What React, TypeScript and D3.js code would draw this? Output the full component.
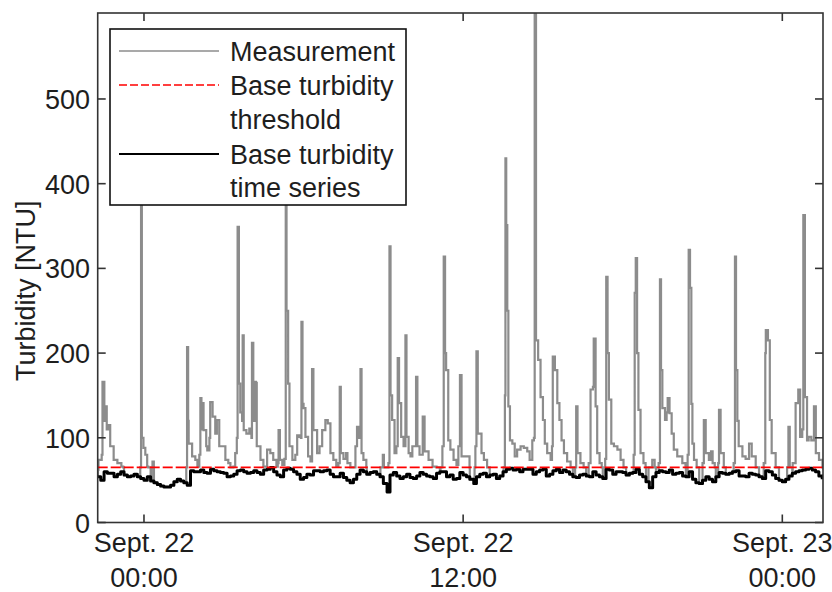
import React from 'react';
import * as d3 from 'd3';

// ---------- data ----------
const START = new Date(2016, 8, 22, 0, 0, 0);
const toDate = (h: number) => new Date(START.getTime() + h * 3600 * 1000);

const xDomainHours = [-1.74, 25.53];
const yDomain = [0, 601.5];
const yTicks = [0, 100, 200, 300, 400, 500];
const xTickHours = [0, 12, 24];
const xTickLabels = [
  ['Sept. 22', '00:00'],
  ['Sept. 22', '12:00'],
  ['Sept. 23', '00:00'],
];
const threshold = 65;
const yLabel = 'Turbidity [NTU]';
const legendItems = [
  { lines: ['Measurement'], kind: 'measurement' },
  { lines: ['Base turbidity', 'threshold'], kind: 'threshold' },
  { lines: ['Base turbidity', 'time series'], kind: 'base' },
];

// Base turbidity time series: [hours since Sept. 22 00:00, NTU]
const baseSeries: [number, number][] = [
  [-1.75, 54], [-1.625, 50], [-1.5, 60], [-1.375, 58], [-1.25, 58], [-1.125, 54], [-1.0, 57], [-0.875, 60],
  [-0.75, 56], [-0.625, 54], [-0.5, 55], [-0.375, 57], [-0.25, 54], [-0.125, 52], [0, 50], [0.125, 54],
  [0.25, 49], [0.375, 47], [0.5, 45], [0.625, 43], [0.75, 42], [0.875, 42], [1.0, 44], [1.125, 48],
  [1.25, 51], [1.375, 49], [1.5, 47], [1.625, 44], [1.75, 61], [1.875, 60], [2.0, 60], [2.125, 62],
  [2.25, 59], [2.375, 58], [2.5, 63], [2.625, 61], [2.75, 60], [2.875, 59], [3.0, 58], [3.125, 54],
  [3.25, 55], [3.375, 57], [3.5, 61], [3.625, 62], [3.75, 60], [3.875, 58], [4.0, 59], [4.125, 61],
  [4.25, 59], [4.375, 57], [4.5, 62], [4.625, 63], [4.75, 65], [4.875, 60], [5.0, 56], [5.125, 54],
  [5.25, 62], [5.375, 64], [5.5, 63], [5.625, 60], [5.75, 57], [5.875, 51], [6.0, 53], [6.125, 57],
  [6.25, 56], [6.375, 61], [6.5, 61], [6.625, 60], [6.75, 61], [6.875, 62], [7.0, 57], [7.125, 54],
  [7.25, 54], [7.375, 58], [7.5, 53], [7.625, 50], [7.75, 47], [7.875, 51], [8.0, 57], [8.125, 62],
  [8.25, 60], [8.375, 57], [8.5, 59], [8.625, 60], [8.75, 57], [8.875, 54], [9.0, 46], [9.14, 36],
  [9.25, 56], [9.375, 59], [9.5, 55], [9.625, 52], [9.75, 54], [9.875, 57], [10.0, 53], [10.125, 52],
  [10.25, 55], [10.375, 59], [10.5, 57], [10.625, 55], [10.75, 54], [10.875, 52], [11.0, 58], [11.125, 60],
  [11.25, 60], [11.375, 54], [11.5, 56], [11.625, 51], [11.75, 52], [11.875, 59], [12.0, 56], [12.125, 54],
  [12.25, 51], [12.4, 46], [12.5, 54], [12.625, 57], [12.75, 58], [12.875, 54], [13.0, 56], [13.125, 57],
  [13.25, 52], [13.375, 55], [13.5, 60], [13.625, 63], [13.75, 64], [13.875, 62], [14.0, 63], [14.125, 60],
  [14.25, 63], [14.375, 63], [14.5, 63], [14.625, 57], [14.75, 60], [14.875, 62], [15.0, 63], [15.125, 55],
  [15.25, 57], [15.375, 61], [15.5, 63], [15.625, 59], [15.75, 62], [15.875, 60], [16.0, 57], [16.125, 54],
  [16.25, 53], [16.375, 56], [16.5, 57], [16.625, 55], [16.75, 54], [16.875, 60], [17.0, 56], [17.125, 54],
  [17.25, 52], [17.375, 63], [17.5, 62], [17.625, 57], [17.75, 60], [17.875, 60], [18.0, 59], [18.125, 56],
  [18.25, 58], [18.375, 59], [18.5, 63], [18.625, 57], [18.75, 54], [18.875, 48], [19.0, 41], [19.125, 54],
  [19.25, 59], [19.375, 61], [19.5, 60], [19.625, 59], [19.75, 62], [19.875, 57], [20.0, 58], [20.125, 59],
  [20.25, 55], [20.375, 54], [20.5, 60], [20.625, 51], [20.75, 47], [20.875, 46], [21.0, 50], [21.125, 54],
  [21.25, 51], [21.375, 48], [21.5, 54], [21.625, 59], [21.75, 58], [21.875, 57], [22.0, 58], [22.125, 60],
  [22.25, 61], [22.375, 55], [22.5, 55], [22.625, 54], [22.75, 58], [22.875, 57], [23.0, 56], [23.125, 54],
  [23.25, 52], [23.375, 61], [23.5, 60], [23.625, 56], [23.75, 52], [23.875, 50], [24.0, 48], [24.125, 51],
  [24.25, 55], [24.375, 58], [24.5, 60], [24.625, 61], [24.75, 62], [24.875, 63], [25.0, 64], [25.125, 62],
  [25.25, 60], [25.375, 55], [25.5, 51],
];

// Measurement events above the base level: [hour, NTU]
const measurementEvents: [number, number][][] = [
  [[-1.73, 62], [-1.71, 74], [-1.59, 80], [-1.56, 166], [-1.49, 120], [-1.46, 137], [-1.4, 110], [-1.35, 115],
   [-1.27, 90], [-1.14, 74], [-1.0, 70], [-0.85, 66], [-0.78, 65]],
  [[-0.14, 65], [-0.11, 450], [-0.08, 100], [-0.02, 88], [0.05, 80], [0.12, 66], [0.16, 65]],
  [[0.29, 65], [0.32, 72], [0.37, 65]],
  [[1.59, 65], [1.62, 207], [1.66, 120], [1.68, 93], [1.81, 78], [1.93, 74], [2.01, 66], [2.08, 80], [2.12, 147],
   [2.16, 110], [2.2, 141], [2.24, 109], [2.34, 90], [2.38, 85], [2.46, 100], [2.49, 142], [2.58, 125],
   [2.68, 105], [2.74, 121], [2.83, 90], [2.93, 90], [3.06, 74], [3.17, 70], [3.25, 65]],
  [[3.36, 66], [3.43, 82], [3.49, 100], [3.52, 349], [3.57, 164], [3.62, 130], [3.69, 120], [3.71, 221],
   [3.75, 109], [3.85, 105], [3.96, 111], [4.04, 100], [4.06, 212], [4.11, 120], [4.16, 166], [4.21, 165],
   [4.24, 90], [4.38, 74], [4.49, 66], [4.63, 86], [4.69, 86], [4.75, 82], [4.86, 74], [4.98, 66], [5.03, 70],
   [5.06, 109], [5.11, 74], [5.2, 68], [5.28, 75], [5.33, 400], [5.36, 250], [5.42, 164], [5.47, 90],
   [5.58, 74], [5.69, 80], [5.76, 103], [5.84, 101], [5.9, 100], [5.92, 237], [5.96, 140], [6.0, 135],
   [6.07, 101], [6.17, 78], [6.26, 72], [6.32, 181], [6.37, 109], [6.51, 82], [6.6, 90], [6.7, 109],
   [6.82, 121], [6.91, 117], [7.01, 82], [7.12, 74], [7.23, 66], [7.31, 70], [7.36, 160], [7.4, 82],
   [7.5, 75], [7.6, 82], [7.65, 70], [7.76, 65]],
  [[7.87, 65], [7.95, 90], [8.01, 113], [8.06, 100], [8.14, 181], [8.18, 82], [8.25, 74], [8.36, 65]],
  [[8.89, 65], [8.98, 80], [9.02, 65], [9.19, 70], [9.23, 326], [9.27, 150], [9.33, 121], [9.42, 82],
   [9.49, 90], [9.54, 194], [9.59, 141], [9.67, 101], [9.76, 90], [9.83, 221], [9.87, 101], [9.95, 82],
   [10.02, 78], [10.09, 90], [10.23, 172], [10.28, 90], [10.36, 80], [10.48, 125], [10.55, 84], [10.7, 74],
   [10.85, 66], [11.0, 65]],
  [[11.15, 65], [11.22, 90], [11.27, 314], [11.32, 200], [11.36, 180], [11.44, 97], [11.52, 86], [11.64, 74],
   [11.75, 68], [11.82, 90], [11.88, 174], [11.94, 78], [12.02, 78], [12.13, 78], [12.21, 78], [12.24, 65]],
  [[12.43, 65], [12.46, 90], [12.5, 202], [12.55, 105], [12.69, 82], [12.78, 74], [12.9, 65]],
  [[13.52, 65], [13.57, 150], [13.59, 430], [13.62, 351], [13.66, 250], [13.7, 137], [13.76, 97], [13.85, 93],
   [13.94, 78], [14.03, 86], [14.16, 90], [14.28, 88], [14.41, 84], [14.5, 74], [14.6, 97], [14.66, 100],
   [14.69, 620], [14.74, 215], [14.82, 192], [14.91, 148], [15.0, 121], [15.07, 93], [15.16, 82], [15.29, 74],
   [15.34, 90], [15.37, 196], [15.45, 180], [15.54, 141], [15.62, 121], [15.7, 97], [15.79, 82], [15.91, 72],
   [16.04, 65]],
  [[16.21, 65], [16.25, 137], [16.3, 82], [16.41, 70], [16.53, 65]],
  [[16.72, 70], [16.79, 157], [16.88, 160], [16.91, 217], [16.98, 137], [17.04, 82], [17.13, 70], [17.21, 65]],
  [[17.34, 75], [17.38, 290], [17.43, 200], [17.48, 145], [17.57, 93], [17.67, 90], [17.8, 86], [17.92, 74],
   [18.03, 65]],
  [[18.41, 80], [18.45, 271], [18.49, 312], [18.54, 200], [18.59, 133], [18.67, 82], [18.78, 70], [18.86, 65]],
  [[18.97, 65], [19.11, 74], [19.2, 65]],
  [[19.35, 70], [19.4, 287], [19.44, 180], [19.49, 135], [19.59, 121], [19.65, 130], [19.69, 147], [19.76, 129],
   [19.84, 105], [19.92, 86], [20.05, 78], [20.24, 70], [20.36, 65]],
  [[20.44, 80], [20.48, 322], [20.53, 277], [20.58, 140], [20.62, 93], [20.68, 74], [20.78, 65]],
  [[21.0, 70], [21.05, 121], [21.12, 82], [21.24, 74], [21.32, 84], [21.38, 70], [21.46, 65]],
  [[21.59, 70], [21.62, 133], [21.68, 82], [21.8, 65]],
  [[22.17, 70], [22.22, 314], [22.26, 180], [22.31, 120], [22.36, 90], [22.5, 78], [22.62, 75], [22.75, 93],
   [22.85, 78], [23.0, 65]],
  [[23.3, 70], [23.36, 200], [23.38, 227], [23.46, 215], [23.53, 121], [23.6, 82], [23.75, 65]],
  [[24.18, 65], [24.23, 113], [24.28, 65]],
  [[24.39, 70], [24.5, 141], [24.6, 157], [24.67, 101], [24.75, 110], [24.79, 363], [24.85, 148], [24.93, 97],
   [24.99, 101], [25.09, 97], [25.19, 137], [25.26, 82], [25.38, 74], [25.51, 65], [25.56, 62]],
];

// ---------- layout ----------
const W = 832;
const H = 592;
const plot = { left: 97.7, right: 823, top: 13, bottom: 522.5 };
const FONT = "'Liberation Sans', Arial, Helvetica, sans-serif";
const FS = 27;
const TXT = '#1e1e1e';

export default function App() {
  const x = d3
    .scaleTime()
    .domain([toDate(xDomainHours[0]), toDate(xDomainHours[1])])
    .range([plot.left, plot.right]);
  const y = d3.scaleLinear().domain(yDomain).range([plot.bottom, plot.top]);

  const spans = measurementEvents.map((ev) => [ev[0][0], ev[ev.length - 1][0]]);
  const measurement: [number, number][] = baseSeries
    .filter(([h]) => !spans.some(([a, b]) => h >= a && h <= b))
    .concat(measurementEvents.flat())
    .sort((a, b) => a[0] - b[0]);

  const line = d3
    .line<[number, number]>()
    .x((d) => x(toDate(d[0])))
    .y((d) => y(d[1]))
    .curve(d3.curveStepAfter);

  const legend = { x: 110, y: 29, w: 296, h: 176 };
  const legendLineX = [119, 219];
  const legendTextX = 230;
  const baselines = [60.5, 95, 129, 163.5, 197];
  const sampleY = [51, 85, 154];

  let lineIdx = 0;

  return (
    <svg
      width={W}
      height={H}
      style={{ position: 'absolute', left: 0, top: 0, background: '#fff' }}
      fontFamily={FONT}
    >
      <defs>
        <clipPath id="plotclip">
          <rect x={plot.left} y={plot.top} width={plot.right - plot.left} height={plot.bottom - plot.top} />
        </clipPath>
      </defs>
      <rect x={0} y={0} width={W} height={H} fill="#fff" />
      <g clipPath="url(#plotclip)">
        <path d={line(measurement) || ''} fill="none" stroke="#8c8c8c" strokeWidth={2.2} strokeLinejoin="miter" />
        <path d={line(baseSeries) || ''} fill="none" stroke="#000" strokeWidth={3} strokeLinejoin="round" />
        <line
          x1={plot.left}
          x2={plot.right}
          y1={y(threshold)}
          y2={y(threshold)}
          stroke="#ff0000"
          strokeWidth={1.8}
          strokeDasharray="10,3"
        />
      </g>

      {/* frame */}
      <rect
        x={plot.left}
        y={plot.top}
        width={plot.right - plot.left}
        height={plot.bottom - plot.top}
        fill="none"
        stroke="#333"
        strokeWidth={1.6}
      />
      {/* y ticks */}
      {yTicks.map((t) => (
        <g key={'yt' + t}>
          <line x1={plot.left} x2={plot.left + 8} y1={y(t)} y2={y(t)} stroke="#333" strokeWidth={1.6} />
          <line x1={plot.right} x2={plot.right - 8} y1={y(t)} y2={y(t)} stroke="#333" strokeWidth={1.6} />
          <text x={90} y={y(t) + 10} textAnchor="end" fontSize={FS} fill={TXT}>
            {t}
          </text>
        </g>
      ))}
      {/* x ticks */}
      {xTickHours.map((h, i) => {
        const px = x(toDate(h));
        return (
          <g key={'xt' + h}>
            <line x1={px} x2={px} y1={plot.bottom} y2={plot.bottom - 8} stroke="#333" strokeWidth={1.6} />
            <line x1={px} x2={px} y1={plot.top} y2={plot.top + 8} stroke="#333" strokeWidth={1.6} />
            <text x={px} y={552} textAnchor="middle" fontSize={FS} fill={TXT}>
              {xTickLabels[i][0]}
            </text>
            <text x={px} y={587} textAnchor="middle" fontSize={FS} fill={TXT}>
              {xTickLabels[i][1]}
            </text>
          </g>
        );
      })}
      {/* y label */}
      <text
        transform={`translate(35, ${(plot.top + plot.bottom) / 2 + 23}) rotate(-90)`}
        textAnchor="middle"
        fontSize={FS}
        fill={TXT}
      >
        {yLabel}
      </text>

      {/* legend */}
      <rect x={legend.x} y={legend.y} width={legend.w} height={legend.h} fill="#fff" stroke="#111" strokeWidth={1.6} />
      {legendItems.map((item, i) => {
        const sy = sampleY[i];
        const stroke = item.kind === 'measurement' ? '#8c8c8c' : item.kind === 'threshold' ? '#ff0000' : '#000';
        const texts = item.lines.map((t) => {
          const b = baselines[lineIdx++];
          return (
            <text key={t + b} x={legendTextX} y={b} fontSize={FS} fill={TXT}>
              {t}
            </text>
          );
        });
        return (
          <g key={'lg' + i}>
            <line
              x1={legendLineX[0]}
              x2={legendLineX[1]}
              y1={sy}
              y2={sy}
              stroke={stroke}
              strokeWidth={item.kind === 'base' ? 1.8 : 1.6}
              strokeDasharray={item.kind === 'threshold' ? '8,3' : undefined}
            />
            {texts}
          </g>
        );
      })}
    </svg>
  );
}
